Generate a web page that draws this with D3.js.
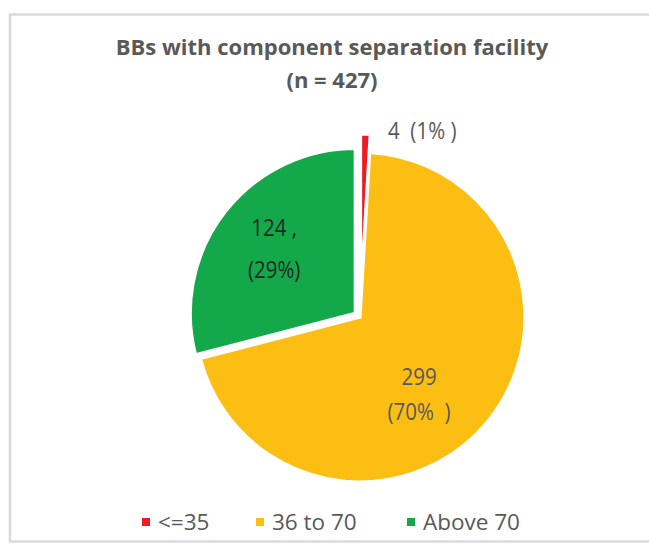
<!DOCTYPE html>
<html>
<head>
<meta charset="utf-8">
<script src="https://cdn.jsdelivr.net/npm/d3@7"></script>
<style>
  body { margin: 0; background: #fff; }
  text { font-family: "Open Sans", "Noto Sans", sans-serif; white-space: pre; }
</style>
</head>
<body>
<svg width="649" height="544"></svg>
<script>
// chart data
var categories = ["<=35", "36 to 70", "Above 70"];
var counts = [4, 299, 124];
var sliceLabels = [["4  (1% )"], ["299", "(70%  )"], ["124 ,", "(29%)"]];
var titleLines = ["BBs with component separation facility", "(n = 427)"];

var colors = ["#ec1c24", "#fdbe14", "#13a84a"];

var svg = d3.select("svg"),
    cx = 360, cy = 317,
    radius = 165;

// outer frame
svg.append("rect")
    .attr("x", 10).attr("y", 14.5)
    .attr("width", 700).attr("height", 527)
    .attr("fill", "none")
    .attr("stroke", "#dadada")
    .attr("stroke-width", 2.5);

// title
svg.selectAll(".title")
    .data(titleLines)
    .enter().append("text")
    .attr("class", "title")
    .attr("x", 332)
    .attr("y", function (d, i) { return 55 + i * 33; })
    .attr("text-anchor", "middle")
    .attr("font-size", 22)
    .attr("font-weight", "bold")
    .attr("fill", "#595959")
    .text(function (d) { return d; });

var pie = d3.pie().sort(null).value(function (d) { return d; });
var arcs = pie(counts);

var path = d3.arc().outerRadius(radius).innerRadius(0);

// explode distance per slice
var explode = [18, 0, 6];

var g = svg.append("g").attr("transform", "translate(" + cx + "," + cy + ")");

var slice = g.selectAll(".arc")
    .data(arcs)
    .enter().append("g")
    .attr("class", "arc")
    .attr("transform", function (d, i) {
        var a = (d.startAngle + d.endAngle) / 2;
        return "translate(" + (Math.sin(a) * explode[i]) + "," + (-Math.cos(a) * explode[i]) + ")";
    });

slice.append("path")
    .attr("d", path)
    .attr("fill", function (d, i) { return colors[i]; })
    .attr("stroke", "#fff")
    .attr("stroke-width", 3.2)
    .attr("stroke-linejoin", "miter");

// label placement (radius fraction, angle nudge, line gap)
var labelSpots = [
    { r: 1.03, da: 0.133, anchor: "start", gap: 0 },
    { r: 0.593, da: 0.235, anchor: "middle", gap: 35 },
    { r: 0.626, da: 0.01, anchor: "middle", gap: 42 }
];
var labelColors = ["#595959", "#595959", "#262626"];

slice.each(function (d, i) {
    var s = labelSpots[i],
        a = (d.startAngle + d.endAngle) / 2 + s.da,
        rr = radius * s.r,
        x = Math.sin(a) * rr,
        y = -Math.cos(a) * rr,
        lines = sliceLabels[i];
    var t = d3.select(this).append("text")
        .attr("transform", "translate(" + x + "," + y + ") scale(1,1.15)")
        .attr("text-anchor", s.anchor)
        .attr("font-size", 20.5)
        .attr("fill", labelColors[i]);
    lines.forEach(function (str, k) {
        t.append("tspan")
            .attr("x", 0)
            .attr("y", ((k - (lines.length - 1) / 2) * s.gap + 7.5) / 1.15)
            .text(str);
    });
});

// legend
var legendX = [142, 256, 407];
var legend = svg.selectAll(".legend")
    .data(categories)
    .enter().append("g")
    .attr("class", "legend")
    .attr("transform", function (d, i) { return "translate(" + legendX[i] + ",518)"; });

legend.append("rect")
    .attr("width", 8).attr("height", 8)
    .attr("fill", function (d, i) { return colors[i]; });

legend.append("text")
    .attr("x", 16)
    .attr("y", 12)
    .attr("font-size", 22.5)
    .attr("fill", "#595959")
    .text(function (d) { return d; });
</script>
</body>
</html>
